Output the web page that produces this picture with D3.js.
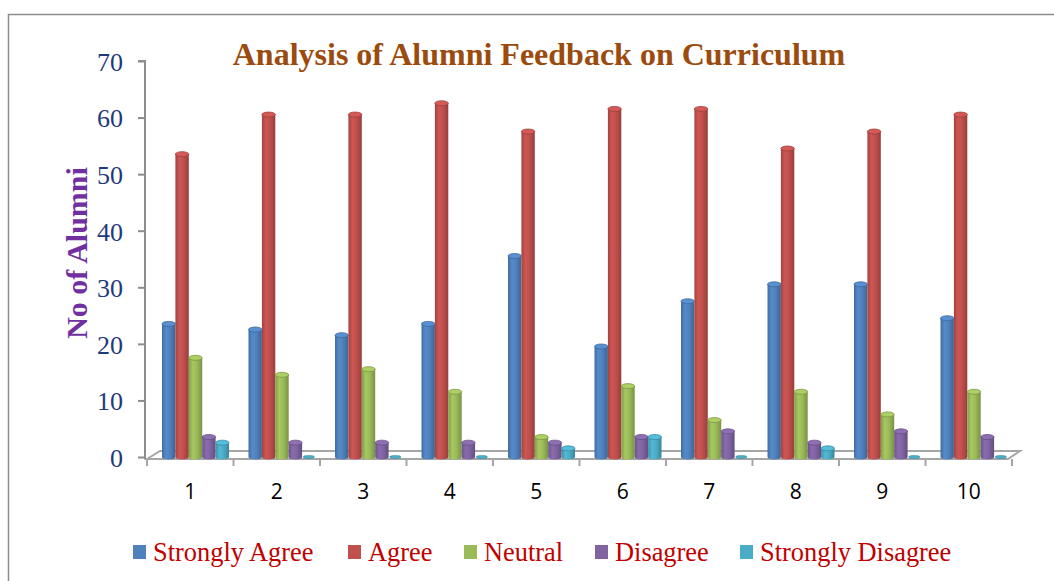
<!DOCTYPE html>
<html><head><meta charset="utf-8">
<script src="https://cdn.jsdelivr.net/npm/d3@7"></script>
<style>body{margin:0;background:#fff}svg{display:block}</style>
</head><body><svg id="c" width="1054" height="581"></svg>
<script>
const categories = ["1","2","3","4","5","6","7","8","9","10"];
const seriesNames = ["Strongly Agree","Agree","Neutral","Disagree","Strongly Disagree"];
const stronglyAgree = [23,22,21,23,35,19,27,30,30,24];
const agree = [53,60,60,62,57,61,61,54,57,60];
const neutral = [17,14,15,11,3,12,6,11,7,11];
const disagree = [3,2,2,2,2,3,4,2,4,3];
const stronglyDisagree = [2,0,0,0,1,3,0,1,0,0];
const yTicks = [0,10,20,30,40,50,60,70];
const colors = ["#4F81BD","#C0504D","#9BBB59","#8064A2","#4BACC6"];
const series = [stronglyAgree, agree, neutral, disagree, stronglyDisagree];

const svg = d3.select("#c");
const defs = svg.append("defs");
colors.forEach((c,i)=>{
  const g = defs.append("linearGradient").attr("id","g"+i).attr("x1","0").attr("x2","1").attr("y1","0").attr("y2","0");
  const base = d3.color(c);
  g.append("stop").attr("offset","0%").attr("stop-color",base.darker(0.5));
  g.append("stop").attr("offset","30%").attr("stop-color",base.brighter(0.2));
  g.append("stop").attr("offset","60%").attr("stop-color",base);
  g.append("stop").attr("offset","100%").attr("stop-color",base.darker(0.7));
});

// outer border
svg.append("rect").attr("x",8.5).attr("y",14.5).attr("width",1070).attr("height",600)
  .attr("fill","none").attr("stroke","#8c8c8c").attr("stroke-width",1.5);

const y = d3.scaleLinear().domain([0,70]).range([457,61]);
const x = d3.scaleBand().domain(categories).range([147,1012]);
const inner = d3.scaleBand().domain(seriesNames).range([0,67]);

// Floor
const fl = svg.append("g").attr("fill","none").attr("stroke","#a6a6a6").attr("stroke-width",2);
fl.append("path").attr("d",`M147,459 L160,451 L1020,451 L1008,459 Z`).attr("fill","#fff");

// y axis
const yAxis = d3.axisLeft(y).tickValues(yTicks).tickSize(7).tickPadding(15);
const ya = svg.append("g").attr("transform","translate(145,0)").call(yAxis);
ya.select(".domain").attr("stroke","#8c8c8c").attr("stroke-width",2).attr("d","M-7,61H0V459");
ya.selectAll(".tick line").attr("stroke","#8c8c8c").attr("stroke-width",2);
ya.selectAll(".tick text").attr("fill","#1F3A7A").attr("dy","0.36em").style("font-family","'Liberation Serif','Times New Roman',serif").style("font-size","26px");

// x axis ticks at boundaries
const xb = svg.append("g");
xb.selectAll("line").data(categories.concat(["end"])).join("line")
  .attr("x1",(d,i)=>147+i*x.step()).attr("x2",(d,i)=>147+i*x.step())
  .attr("y1",459).attr("y2",466).attr("stroke","#a6a6a6").attr("stroke-width",2);
xb.selectAll("text").data(categories).join("text")
  .attr("x",d=>x(d)+x.bandwidth()/2).attr("y",499).attr("text-anchor","middle")
  .style("font-family","'Open Sans','Liberation Sans',Arial,sans-serif").style("font-size","21px").attr("fill","#000").text(d=>d);

// bars
const bw = inner.bandwidth();
const bars = svg.append("g");
categories.forEach((cat,ci)=>{
  series.forEach((arr,si)=>{
    const v = arr[ci];
    const x0 = x(cat) + 15 + inner(seriesNames[si]);
    const top = y(v) - 3;
    const bottom = y(0);
    const rx = bw/2, ry = 2.5;
    const g = bars.append("g");
    if (v > 0) {
      g.append("path").attr("d",`M${x0},${top} L${x0},${bottom} A${rx},${ry} 0 0 0 ${x0+bw},${bottom} L${x0+bw},${top} Z`)
        .attr("fill",`url(#g${si})`);
      g.append("ellipse").attr("cx",x0+rx).attr("cy",top).attr("rx",rx).attr("ry",ry)
        .attr("fill",d3.color(colors[si]).brighter(0.3)).attr("stroke",d3.color(colors[si]).darker(0.6)).attr("stroke-width",0.8);
    } else {
      g.append("ellipse").attr("cx",x0+rx).attr("cy",bottom).attr("rx",rx-1).attr("ry",1.6)
        .attr("fill",colors[si]).attr("stroke",d3.color(colors[si]).darker(0.5)).attr("stroke-width",0.6);
    }
  });
});

// title
svg.append("text").attr("x",539).attr("y",65).attr("text-anchor","middle")
  .style("font-family","'Liberation Serif','Times New Roman',serif").style("font-size","32px").style("font-weight","bold")
  .attr("fill","#9C4B0E").text("Analysis of Alumni Feedback on Curriculum");

// y title
svg.append("text").attr("transform","translate(87,253) rotate(-90)").attr("text-anchor","middle")
  .style("font-family","'Liberation Serif','Times New Roman',serif").style("font-size","30px").style("font-weight","bold")
  .attr("fill","#7030A0").text("No of Alumni");

// legend
const legX = [133,348,464,595,740];
const lg = svg.append("g");
seriesNames.forEach((n,i)=>{
  lg.append("rect").attr("x",legX[i]).attr("y",545).attr("width",13).attr("height",14).attr("fill",colors[i]);
  lg.append("text").attr("x",legX[i]+20).attr("y",561)
    .style("font-family","'Liberation Serif','Times New Roman',serif").style("font-size","26.4px")
    .attr("fill","#C00000").text(n);
});
</script></body></html>
